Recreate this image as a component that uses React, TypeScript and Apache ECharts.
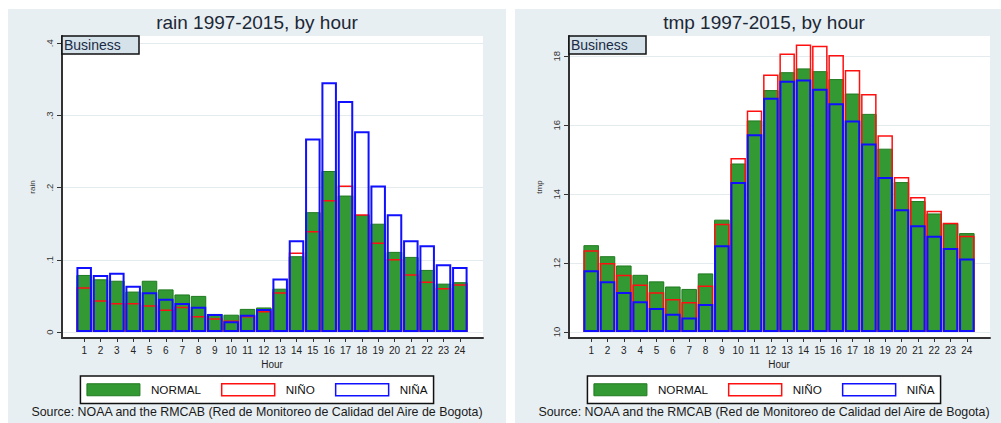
import React, { useEffect, useRef } from "react";
import * as echarts from "echarts";

const FONT = "Liberation Sans";

const hours = ["1","2","3","4","5","6","7","8","9","10","11","12","13","14","15","16","17","18","19","20","21","22","23","24"];
const seriesNames = ["NORMAL", "NIÑO", "NIÑA"];
const sourceText = "Source: NOAA and the RMCAB (Red de Monitoreo de Calidad del Aire de Bogota)";
const boxLabel = "Business";

const rainNormal = [0.079, 0.073, 0.071, 0.056, 0.071, 0.059, 0.052, 0.050, 0.025, 0.024, 0.032, 0.034, 0.060, 0.105, 0.166, 0.223, 0.189, 0.162, 0.150, 0.111, 0.104, 0.086, 0.067, 0.069];
const rainNino = [0.062, 0.044, 0.040, 0.040, 0.037, 0.031, 0.035, 0.022, 0.019, 0.016, 0.022, 0.029, 0.055, 0.110, 0.140, 0.183, 0.203, 0.163, 0.124, 0.101, 0.080, 0.070, 0.061, 0.066];
const rainNina = [0.090, 0.079, 0.082, 0.064, 0.055, 0.046, 0.040, 0.035, 0.025, 0.015, 0.024, 0.032, 0.074, 0.127, 0.268, 0.346, 0.320, 0.278, 0.203, 0.163, 0.127, 0.120, 0.094, 0.090];
const rainTicks = [0, 0.1, 0.2, 0.3, 0.4];

const tmpNormal = [12.52, 12.20, 11.93, 11.66, 11.47, 11.32, 11.25, 11.70, 13.26, 14.89, 16.14, 17.02, 17.54, 17.65, 17.57, 17.34, 16.92, 16.33, 15.32, 14.35, 13.80, 13.44, 13.15, 12.87];
const tmpNino = [12.37, 12.00, 11.66, 11.38, 11.15, 10.96, 10.87, 11.35, 13.14, 15.05, 16.43, 17.47, 18.08, 18.34, 18.31, 18.04, 17.60, 16.91, 15.71, 14.50, 13.92, 13.52, 13.17, 12.79];
const tmpNina = [11.79, 11.47, 11.16, 10.89, 10.70, 10.53, 10.42, 10.81, 12.52, 14.35, 15.74, 16.80, 17.29, 17.33, 17.06, 16.64, 16.14, 15.47, 14.50, 13.56, 13.10, 12.79, 12.44, 12.13];
const tmpTicks = [10, 12, 14, 16, 18];

type PanelCfg = {
  title: string;
  yName: string;
  base: number;
  top: number;
  ticks: number[];
  normal: number[];
  nino: number[];
  nina: number[];
};

const panels: PanelCfg[] = [
  { title: "rain 1997-2015, by hour", yName: "rain", base: 0, top: 0.41, ticks: rainTicks, normal: rainNormal, nino: rainNino, nina: rainNina },
  { title: "tmp 1997-2015, by hour", yName: "tmp", base: 10, top: 18.59, ticks: tmpTicks, normal: tmpNormal, nino: tmpNino, nina: tmpNina },
];

const fmt = (v: number) => {
  if (v === 0) return "0";
  const s = String(v);
  return s.startsWith("0.") ? s.slice(1) : s;
};

function buildOption(p: PanelCfg) {
  const frameMin = p.base - ((p.top - p.base) * 6) / 296;
  const green = { color: "#339933", borderColor: "#1f7a1f", borderWidth: 1 };
  const red = { color: "rgba(255,255,255,0)", borderColor: "#ff1010", borderWidth: 1.5 };
  const blue = { color: "rgba(255,255,255,0)", borderColor: "#1010ff", borderWidth: 2 };
  const bar = (name: string, data: number[], itemStyle: any) => ({
    name,
    type: "bar",
    xAxisIndex: 0,
    yAxisIndex: 0,
    data,
    barGap: "-100%",
    barCategoryGap: "5%",
    itemStyle,
    emphasis: { disabled: true },
  });
  return {
    animation: false,
    backgroundColor: "#e8eff2",
    textStyle: { fontFamily: FONT },
    title: [
      { text: p.title, left: "center", top: 4, padding: 0, textStyle: { fontFamily: FONT, fontSize: 19, fontWeight: "normal", color: "#1c2836" } },
      { text: sourceText, left: "center", top: 397, padding: 0, textStyle: { fontFamily: FONT, fontSize: 12.4, fontWeight: "normal", color: "#1a1a1a" } },
    ],
    grid: [
      { left: 68, top: 27, width: 392, height: 296, show: false },
      { left: 54, top: 27, width: 421, height: 302, show: true, backgroundColor: "#ffffff", borderWidth: 0 },
    ],
    xAxis: [
      {
        gridIndex: 0, type: "category", data: hours, offset: 6,
        axisLine: { show: false, onZero: false },
        axisTick: { show: true, alignWithLabel: true, length: 4, lineStyle: { color: "#333", width: 1 } },
        axisLabel: { interval: 0, fontSize: 10, color: "#222", margin: 7, hideOverlap: false },
        splitLine: { show: false },
        name: "Hour", nameLocation: "middle", nameGap: 18,
        nameTextStyle: { fontSize: 10, color: "#222", fontFamily: FONT },
      },
      {
        gridIndex: 1, type: "value", min: 0, max: 1,
        axisLine: { show: true, onZero: false, lineStyle: { color: "#333", width: 2 } },
        axisTick: { show: false }, axisLabel: { show: false }, splitLine: { show: false },
      },
    ],
    yAxis: [
      { gridIndex: 0, type: "value", min: p.base, max: p.top, startValue: p.base, show: false, splitLine: { show: false } },
      {
        gridIndex: 1, type: "value", min: frameMin, max: p.top,
        axisLine: { show: true, onZero: false, lineStyle: { color: "#333", width: 2 } },
        axisTick: { show: true, length: 5, customValues: p.ticks, lineStyle: { color: "#333", width: 1 } },
        axisLabel: { customValues: p.ticks, rotate: 90, fontSize: 9.5, color: "#333", margin: 8, formatter: fmt },
        splitLine: { show: true, lineStyle: { color: "#e3ebee", width: 1 } },
        name: p.yName, nameLocation: "middle", nameGap: 16, nameRotate: 90,
        nameTextStyle: { fontSize: 8, color: "#333", fontFamily: FONT },
      },
    ],
    legend: {
      left: "center", top: 367, orient: "horizontal",
      itemWidth: 53, itemHeight: 12, itemGap: 20,
      padding: [7, 6, 7, 6],
      borderColor: "#111", borderWidth: 1.5, backgroundColor: "#ffffff",
      selectedMode: false, icon: "rect",
      textStyle: { fontFamily: FONT, fontSize: 11.7, color: "#111", padding: [0, 0, 0, 6] },
      data: [
        { name: seriesNames[0], itemStyle: { color: "#339933", borderColor: "#1f7a1f", borderWidth: 1 } },
        { name: seriesNames[1], itemStyle: { color: "#ffffff", borderColor: "#ff1010", borderWidth: 1.5 } },
        { name: seriesNames[2], itemStyle: { color: "#ffffff", borderColor: "#1010ff", borderWidth: 1.5 } },
      ],
    },
    graphic: [
      {
        type: "group", z: 100,
        children: [
          { type: "rect", z: 100, shape: { x: 54, y: 27, width: 77, height: 18 }, style: { fill: "#d5e2ea", stroke: "#111", lineWidth: 1.5 } },
          { type: "text", z: 101, x: 56, y: 36, style: { text: boxLabel, fontFamily: FONT, fontSize: 14, verticalAlign: "middle", fill: "#1a2a44" } },
        ],
      },
    ],
    series: [
      bar(seriesNames[0], p.normal, green),
      bar(seriesNames[1], p.nino, red),
      bar(seriesNames[2], p.nina, blue),
    ],
  };
}

function Panel({ cfg, left }: { cfg: PanelCfg; left: number }) {
  const ref = useRef<HTMLDivElement>(null);
  useEffect(() => {
    if (!ref.current) return;
    const chart = echarts.init(ref.current, undefined, { renderer: "svg" });
    chart.setOption(buildOption(cfg) as any);
    return () => chart.dispose();
  }, [cfg]);
  return <div ref={ref} style={{ position: "absolute", left, top: 9, width: 498, height: 414 }} />;
}

export default function App() {
  return (
    <div style={{ position: "fixed", left: 0, top: 0, width: 1001, height: 423, background: "#ffffff", overflow: "hidden" }}>
      <Panel cfg={panels[0]} left={8} />
      <Panel cfg={panels[1]} left={515} />
    </div>
  );
}
